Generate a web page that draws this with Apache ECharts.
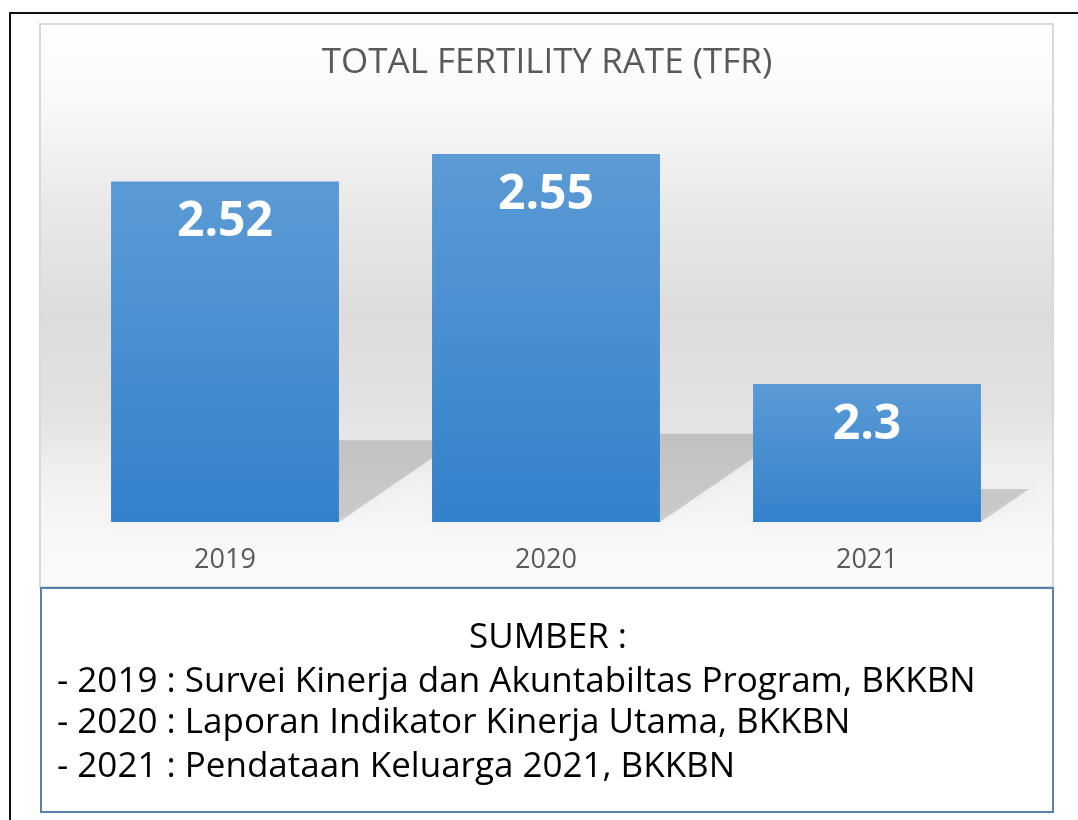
<!DOCTYPE html>
<html>
<head>
<meta charset="utf-8">
<script src="https://cdn.jsdelivr.net/npm/echarts@6/dist/echarts.min.js"></script>
<style>
  html, body { margin: 0; padding: 0; background: #fff; }
  #chart { width: 1078px; height: 820px; }
</style>
</head>
<body>
<div id="chart"></div>
<script>
    // data
    var years = ['2019', '2020', '2021'];
    var tfrValues = [2.52, 2.55, 2.3];
    var sourceTitle = 'SUMBER :';
    var sourceLines = [
        '- 2019 : Survei Kinerja dan Akuntabiltas Program, BKKBN',
        '- 2020 : Laporan Indikator Kinerja Utama, BKKBN',
        '- 2021 : Pendataan Keluarga 2021, BKKBN'
    ];

    var yMin = 2.15;
    var font = '"Open Sans", "DejaVu Sans", sans-serif';

    var myChart = echarts.init(document.getElementById('chart'), null, { renderer: 'canvas' });

    // text lines of the source box
    var sourceGraphics = [{
        type: 'text', x: 548, y: 638, z: 100,
        style: { text: sourceTitle, fill: '#000', font: '35px ' + font, textAlign: 'center', textVerticalAlign: 'middle' }
    }];
    var lineY = [682, 723, 767];
    sourceLines.forEach(function (t, i) {
        sourceGraphics.push({
            type: 'text', x: 57, y: lineY[i], z: 100,
            style: { text: t, fill: '#000', font: '35px ' + font, textAlign: 'left', textVerticalAlign: 'middle' }
        });
    });

    var option = {
        animation: false,
        graphic: [
            // outer frame
            { type: 'rect', z: -10, shape: { x: 10, y: 13, width: 1100, height: 900 },
              style: { fill: '#fff', stroke: '#111', lineWidth: 2 } },
            // chart area
            { type: 'rect', z: -5, shape: { x: 40, y: 24, width: 1013, height: 563 },
              style: {
                  stroke: '#d9d9d9', lineWidth: 2,
                  fill: new echarts.graphic.LinearGradient(0, 0, 0, 1, [
                      { offset: 0, color: '#ffffff' },
                      { offset: 0.12, color: '#fafafa' },
                      { offset: 0.32, color: '#e9e9e9' },
                      { offset: 0.52, color: '#dcdcdc' },
                      { offset: 0.7, color: '#e3e3e3' },
                      { offset: 0.78, color: '#eeeeee' },
                      { offset: 0.9, color: '#f7f7f7' },
                      { offset: 1, color: '#fbfbfb' }
                  ])
              } },
            // source box
            { type: 'rect', z: -5, shape: { x: 41, y: 588, width: 1012, height: 224 },
              style: { fill: '#fff', stroke: '#5a7fa8', lineWidth: 2 } },
            { type: 'text', x: 547, y: 63, z: 100,
              style: { text: 'TOTAL FERTILITY RATE (TFR)', fill: '#595959', font: '35px ' + font,
                       textAlign: 'center', textVerticalAlign: 'middle' } }
        ].concat(sourceGraphics),
        grid: { left: 64.5, right: 50.5, top: 108, bottom: 298 },
        xAxis: {
            type: 'category',
            data: years,
            axisLine: { show: false },
            axisTick: { show: false },
            axisLabel: { color: '#595959', fontSize: 27, fontFamily: font, margin: 25 }
        },
        yAxis: {
            type: 'value',
            min: yMin,
            max: 2.6,
            show: false,
            splitLine: { show: false }
        },
        series: [{
            // floor shadow behind each bar
            type: 'custom',
            z: 1,
            silent: true,
            data: tfrValues.map(function (v, i) { return [i, v]; }),
            renderItem: function (params, api) {
                var i = api.value(0);
                var top = api.coord([i, api.value(1)]);
                var base = api.coord([i, yMin]);
                var h = base[1] - top[1];
                var w = api.size([1, 0])[0] * 0.71;
                var x0 = top[0] - w / 2;
                var x1 = top[0] + w / 2;
                var dx = 0.35 * h, dy = 0.24 * h;
                return {
                    type: 'polygon',
                    shape: { points: [[x0, base[1]], [x1, base[1]], [x1 + dx, base[1] - dy], [x0 + dx, base[1] - dy]] },
                    style: { fill: 'rgba(0,0,0,0.15)', shadowBlur: 9, shadowColor: 'rgba(0,0,0,0.18)' }
                };
            }
        }, {
            type: 'bar',
            z: 3,
            data: tfrValues,
            barWidth: '71%',
            itemStyle: {
                color: new echarts.graphic.LinearGradient(0, 0, 0, 1, [
                    { offset: 0, color: '#5b9bd5' },
                    { offset: 1, color: '#3481cb' }
                ])
            },
            label: {
                show: true,
                position: ['50%', 41],
                align: 'center',
                verticalAlign: 'middle',
                color: '#fff',
                fontSize: 48,
                fontWeight: 'bold',
                fontFamily: font
            }
        }]
    };

    myChart.setOption(option);
    window.addEventListener('resize', myChart.resize);
</script>
</body>
</html>
